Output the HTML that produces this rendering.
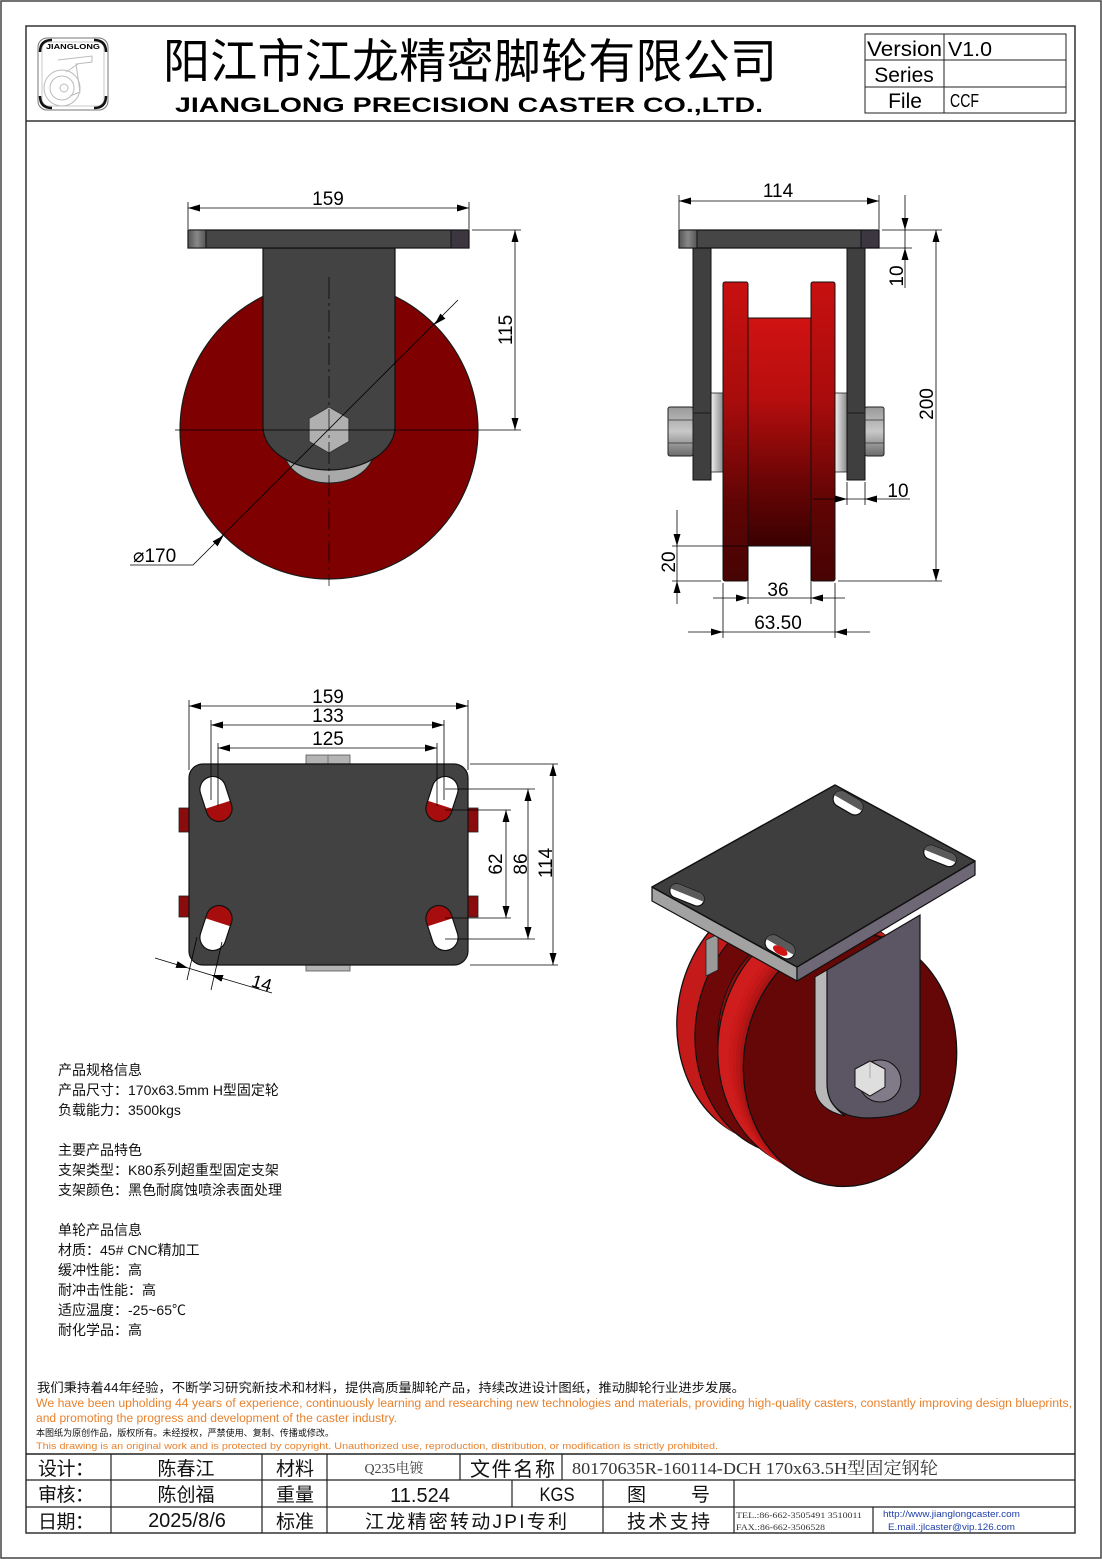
<!DOCTYPE html>
<html><head><meta charset="utf-8"><style>
html,body{margin:0;padding:0;background:#fff;}
svg{display:block;}
text{font-family:"Liberation Sans","Noto Sans CJK SC",sans-serif;}
.s{font-family:"Liberation Serif","Noto Serif CJK SC","Noto Sans CJK SC",serif;}
</style></head><body>
<svg width="1102" height="1559" viewBox="0 0 1102 1559" xmlns="http://www.w3.org/2000/svg">
<defs>
<marker id="ar" viewBox="0 0 12 7" refX="12" refY="3.5" markerWidth="12" markerHeight="7" markerUnits="userSpaceOnUse" orient="auto-start-reverse"><path d="M0,0 L12,3.5 L0,7 z" fill="#000"/></marker>
<linearGradient id="redV" x1="0" y1="0" x2="0" y2="1"><stop offset="0" stop-color="#d01212"/><stop offset="0.35" stop-color="#b80e0e"/><stop offset="0.7" stop-color="#6e0505"/><stop offset="1" stop-color="#3a0000"/></linearGradient>
<linearGradient id="redF" x1="0" y1="0" x2="0" y2="1"><stop offset="0" stop-color="#c81010"/><stop offset="0.4" stop-color="#a80c0c"/><stop offset="0.75" stop-color="#5e0404"/><stop offset="1" stop-color="#480303"/></linearGradient>
<linearGradient id="grayH" x1="0" y1="0" x2="1" y2="0"><stop offset="0" stop-color="#f0f0f0"/><stop offset="1" stop-color="#8a8a8a"/></linearGradient>
<linearGradient id="nutG" x1="0" y1="0" x2="0" y2="1"><stop offset="0" stop-color="#9a9a9a"/><stop offset="0.5" stop-color="#c8c8c8"/><stop offset="1" stop-color="#6a6a6a"/></linearGradient>
<linearGradient id="capL" x1="0" y1="0" x2="1" y2="0"><stop offset="0" stop-color="#555"/><stop offset="0.5" stop-color="#888"/><stop offset="1" stop-color="#555"/></linearGradient>
</defs>

<!-- frames -->
<rect x="1" y="1" width="1100" height="1557" fill="none" stroke="#444" stroke-width="1.5"/>
<rect x="26" y="26" width="1049" height="1507" fill="none" stroke="#333" stroke-width="1.5"/>
<line x1="26" y1="121" x2="1075" y2="121" stroke="#333" stroke-width="1.5"/>

<!-- logo -->
<g>
<rect x="38" y="38" width="70" height="72" rx="9" fill="none" stroke="#777" stroke-width="1"/>
<rect x="42" y="42" width="62" height="64" rx="7" fill="none" stroke="#bbb" stroke-width="0.8"/>
<path d="M40,52 Q40,40 52,40" fill="none" stroke="#111" stroke-width="2.5"/>
<path d="M94,40 Q106,40 106,52" fill="none" stroke="#111" stroke-width="2.5"/>
<path d="M40,96 Q40,108 52,108" fill="none" stroke="#111" stroke-width="2.5"/>
<path d="M94,108 Q106,108 106,96" fill="none" stroke="#111" stroke-width="2.5"/>
<text x="73" y="49" font-size="7" font-weight="bold" text-anchor="middle" textLength="54" lengthAdjust="spacingAndGlyphs">JIANGLONG</text>
<circle cx="62" cy="88" r="18" fill="none" stroke="#bbb" stroke-width="1"/>
<circle cx="62" cy="88" r="12" fill="none" stroke="#bbb" stroke-width="1"/>
<circle cx="64" cy="88" r="4" fill="none" stroke="#bbb" stroke-width="1"/>
<path d="M58,60 L92,56 L92,62 L76,64 L80,92 L70,96 M78,64 L66,72" fill="none" stroke="#bbb" stroke-width="1"/>
</g>

<!-- title -->
<text x="163" y="78" font-size="47" textLength="614" lengthAdjust="spacing" font-family="'Noto Sans CJK SC',sans-serif">阳江市江龙精密脚轮有限公司</text>
<text x="175" y="112" font-size="21" font-weight="bold" textLength="588" lengthAdjust="spacingAndGlyphs">JIANGLONG PRECISION CASTER CO.,LTD.</text>

<!-- version table -->
<g stroke="#222" stroke-width="1" fill="none">
<rect x="865" y="34" width="201" height="79"/>
<line x1="865" y1="60" x2="1066" y2="60"/>
<line x1="865" y1="87" x2="1066" y2="87"/>
<line x1="944" y1="34" x2="944" y2="113"/>
</g>
<text x="867" y="56" font-size="21" textLength="75" lengthAdjust="spacingAndGlyphs">Version</text>
<text x="948" y="56" font-size="20" textLength="44" lengthAdjust="spacingAndGlyphs">V1.0</text>
<text x="904" y="82" font-size="21" text-anchor="middle">Series</text>
<text x="905" y="108" font-size="21" text-anchor="middle">File</text>
<text x="950" y="107" font-size="18" textLength="29" lengthAdjust="spacingAndGlyphs">CCF</text>

<!-- ================= FRONT VIEW ================= -->
<g>
<circle cx="329" cy="430" r="149" fill="#7e0000" stroke="#1a1a1a" stroke-width="1.2"/>
<ellipse cx="329" cy="450" rx="45" ry="33" fill="#a9a9a9" stroke="#222" stroke-width="1"/>
<path d="M263,248 H395 V427 A66,43 0 0 1 263,427 Z" fill="#434343" stroke="#111" stroke-width="1.2"/>
<rect x="188" y="230" width="281" height="18" fill="#464646" stroke="#111" stroke-width="1.2"/>
<rect x="188" y="230" width="18" height="18" fill="url(#capL)" stroke="#111" stroke-width="1"/>
<rect x="451" y="230" width="18" height="18" fill="#3b3640" stroke="#111" stroke-width="1"/>
<polygon points="329,407 348.9,418.5 348.9,441.5 329,453 309.1,441.5 309.1,418.5" fill="#b0b0b0" stroke="#333" stroke-width="1"/>
<line x1="175" y1="430" x2="521" y2="430" stroke="#000" stroke-width="0.8"/>
<line x1="329" y1="277" x2="329" y2="586" stroke="#000" stroke-width="0.7" stroke-dasharray="22,4,3,4"/>
<!-- 159 -->
<g stroke="#000" stroke-width="0.8">
<line x1="188" y1="202" x2="188" y2="229"/>
<line x1="469" y1="202" x2="469" y2="229"/>
<line x1="188" y1="208" x2="469" y2="208" marker-start="url(#ar)" marker-end="url(#ar)"/>
<line x1="472" y1="230" x2="521" y2="230"/>
<line x1="515" y1="230" x2="515" y2="430" marker-start="url(#ar)" marker-end="url(#ar)"/>
<polyline points="458,300 193,565 130,565" fill="none"/>
</g>
<polygon points="434.4,324.6 445.4,318.6 440.4,313.6" fill="#000"/>
<polygon points="223.6,535.4 217.6,546.4 212.6,541.4" fill="#000"/>
<text x="328" y="205" font-size="19" text-anchor="middle">159</text>
<text transform="translate(512,330) rotate(-90)" font-size="19" text-anchor="middle">115</text>
<text x="133" y="562" font-size="19">⌀170</text>
</g>

<!-- ================= SIDE VIEW ================= -->
<g>
<rect x="748" y="318" width="63" height="228" fill="url(#redV)" stroke="#111" stroke-width="1"/>
<rect x="711" y="393" width="12" height="79" fill="url(#grayH)" stroke="#222" stroke-width="0.8"/>
<rect x="835" y="393" width="12" height="79" fill="url(#grayH)" stroke="#222" stroke-width="0.8"/>
<rect x="723" y="282" width="25" height="299" rx="2" fill="url(#redF)" stroke="#111" stroke-width="1"/>
<rect x="811" y="282" width="24" height="299" rx="2" fill="url(#redF)" stroke="#111" stroke-width="1"/>
<rect x="693" y="248" width="18" height="232" fill="#3f3f3f" stroke="#111" stroke-width="1"/>
<rect x="847" y="248" width="18" height="232" fill="#3f3f3f" stroke="#111" stroke-width="1"/>
<line x1="693" y1="413" x2="711" y2="413" stroke="#111" stroke-width="0.8"/>
<line x1="847" y1="413" x2="865" y2="413" stroke="#111" stroke-width="0.8"/>
<rect x="668" y="407" width="25" height="49" rx="2" fill="url(#nutG)" stroke="#222" stroke-width="1"/>
<line x1="668" y1="420" x2="693" y2="420" stroke="#333" stroke-width="0.8"/>
<line x1="668" y1="443" x2="693" y2="443" stroke="#333" stroke-width="0.8"/>
<rect x="865" y="407" width="19" height="49" rx="2" fill="url(#nutG)" stroke="#222" stroke-width="1"/>
<line x1="865" y1="420" x2="884" y2="420" stroke="#333" stroke-width="0.8"/>
<line x1="865" y1="443" x2="884" y2="443" stroke="#333" stroke-width="0.8"/>
<rect x="679" y="230" width="200" height="18" fill="#464646" stroke="#111" stroke-width="1.2"/>
<rect x="679" y="230" width="18" height="18" fill="url(#capL)" stroke="#111" stroke-width="1"/>
<rect x="861" y="230" width="18" height="18" fill="#3b3640" stroke="#111" stroke-width="1"/>
<g stroke="#000" stroke-width="0.8" fill="none">
<line x1="679" y1="195" x2="679" y2="229"/>
<line x1="879" y1="195" x2="879" y2="229"/>
<line x1="679" y1="201" x2="879" y2="201" marker-start="url(#ar)" marker-end="url(#ar)"/>
<line x1="882" y1="230" x2="942" y2="230"/>
<line x1="867" y1="248" x2="912" y2="248"/>
<line x1="905" y1="195" x2="905" y2="230" marker-end="url(#ar)"/>
<line x1="905" y1="230" x2="905" y2="248"/>
<line x1="905" y1="288" x2="905" y2="248" marker-end="url(#ar)"/>
<line x1="936" y1="230" x2="936" y2="581" marker-start="url(#ar)" marker-end="url(#ar)"/>
<line x1="838" y1="581" x2="942" y2="581"/>
<line x1="847" y1="482" x2="847" y2="505"/>
<line x1="865" y1="482" x2="865" y2="505"/>
<line x1="813" y1="499" x2="847" y2="499" marker-end="url(#ar)"/>
<line x1="847" y1="499" x2="865" y2="499"/>
<line x1="910" y1="499" x2="865" y2="499" marker-end="url(#ar)"/>
<line x1="672" y1="546" x2="748" y2="546"/>
<line x1="672" y1="581" x2="721" y2="581"/>
<line x1="677" y1="510" x2="677" y2="546" marker-end="url(#ar)"/>
<line x1="677" y1="546" x2="677" y2="581"/>
<line x1="677" y1="604" x2="677" y2="581" marker-end="url(#ar)"/>
<line x1="748" y1="548" x2="748" y2="604"/>
<line x1="811" y1="548" x2="811" y2="604"/>
<line x1="713" y1="598" x2="748" y2="598" marker-end="url(#ar)"/>
<line x1="748" y1="598" x2="811" y2="598"/>
<line x1="845" y1="598" x2="811" y2="598" marker-end="url(#ar)"/>
<line x1="723" y1="583" x2="723" y2="638"/>
<line x1="835" y1="583" x2="835" y2="638"/>
<line x1="688" y1="632" x2="723" y2="632" marker-end="url(#ar)"/>
<line x1="723" y1="632" x2="835" y2="632"/>
<line x1="870" y1="632" x2="835" y2="632" marker-end="url(#ar)"/>
</g>
<text x="778" y="197" font-size="19" text-anchor="middle">114</text>
<text transform="translate(903,276) rotate(-90)" font-size="19" text-anchor="middle">10</text>
<text transform="translate(933,404) rotate(-90)" font-size="19" text-anchor="middle">200</text>
<text x="898" y="497" font-size="19" text-anchor="middle">10</text>
<text transform="translate(675,562) rotate(-90)" font-size="19" text-anchor="middle">20</text>
<text x="778" y="596" font-size="19" text-anchor="middle">36</text>
<text x="778" y="629" font-size="19" text-anchor="middle">63.50</text>
</g>

<!-- ================= TOP VIEW ================= -->
<g>
<rect x="306" y="755" width="44" height="10" fill="#b4b4b4" stroke="#555" stroke-width="0.8"/>
<line x1="328" y1="755" x2="328" y2="764" stroke="#666" stroke-width="0.8"/>
<rect x="306" y="964" width="44" height="7" fill="#b4b4b4" stroke="#555" stroke-width="0.8"/>
<rect x="179" y="808" width="11" height="24" fill="#8a0c0c" stroke="#222" stroke-width="0.8"/>
<rect x="179" y="896" width="11" height="21" fill="#8a0c0c" stroke="#222" stroke-width="0.8"/>
<rect x="467" y="808" width="11" height="24" fill="#8a0c0c" stroke="#222" stroke-width="0.8"/>
<rect x="467" y="896" width="11" height="21" fill="#8a0c0c" stroke="#222" stroke-width="0.8"/>
<rect x="189" y="764" width="279" height="201" rx="14" fill="#424242" stroke="#111" stroke-width="1.2"/>
<g transform="translate(216,799) rotate(-18)"><rect x="-13" y="-23" width="26" height="46" rx="13" fill="#fff"/><path d="M-13,6 H13 V10 A13,13 0 0 1 -13,10 Z" fill="#a80d0d"/><rect x="-13" y="-23" width="26" height="46" rx="13" fill="none" stroke="#111" stroke-width="1.2"/></g>
<g transform="translate(442,799) rotate(18)"><rect x="-13" y="-23" width="26" height="46" rx="13" fill="#fff"/><path d="M-13,6 H13 V10 A13,13 0 0 1 -13,10 Z" fill="#a80d0d"/><rect x="-13" y="-23" width="26" height="46" rx="13" fill="none" stroke="#111" stroke-width="1.2"/></g>
<g transform="translate(216,928) rotate(18)"><rect x="-13" y="-23" width="26" height="46" rx="13" fill="#fff"/><path d="M-13,-6 H13 V-10 A13,13 0 0 0 -13,-10 Z" fill="#a80d0d"/><rect x="-13" y="-23" width="26" height="46" rx="13" fill="none" stroke="#111" stroke-width="1.2"/></g>
<g transform="translate(442,928) rotate(-18)"><rect x="-13" y="-23" width="26" height="46" rx="13" fill="#fff"/><path d="M-13,-6 H13 V-10 A13,13 0 0 0 -13,-10 Z" fill="#a80d0d"/><rect x="-13" y="-23" width="26" height="46" rx="13" fill="none" stroke="#111" stroke-width="1.2"/></g>
<g stroke="#000" stroke-width="0.8" fill="none">
<line x1="189" y1="700" x2="189" y2="770"/>
<line x1="468" y1="700" x2="468" y2="770"/>
<line x1="189" y1="706" x2="468" y2="706" marker-start="url(#ar)" marker-end="url(#ar)"/>
<line x1="211" y1="720" x2="211" y2="800"/>
<line x1="444" y1="720" x2="444" y2="800"/>
<line x1="211" y1="725" x2="444" y2="725" marker-start="url(#ar)" marker-end="url(#ar)"/>
<line x1="218" y1="743" x2="218" y2="806"/>
<line x1="437" y1="743" x2="437" y2="806"/>
<line x1="218" y1="748" x2="437" y2="748" marker-start="url(#ar)" marker-end="url(#ar)"/>
<line x1="470" y1="764" x2="558" y2="764"/>
<line x1="470" y1="965" x2="558" y2="965"/>
<line x1="553" y1="764" x2="553" y2="965" marker-start="url(#ar)" marker-end="url(#ar)"/>
<line x1="445" y1="789" x2="535" y2="789"/>
<line x1="445" y1="939" x2="535" y2="939"/>
<line x1="528" y1="789" x2="528" y2="939" marker-start="url(#ar)" marker-end="url(#ar)"/>
<line x1="445" y1="810" x2="511" y2="810"/>
<line x1="445" y1="918" x2="511" y2="918"/>
<line x1="506" y1="810" x2="506" y2="918" marker-start="url(#ar)" marker-end="url(#ar)"/>
<line x1="197" y1="937" x2="187" y2="980"/>
<line x1="222" y1="942" x2="211" y2="990"/>
<line x1="155" y1="958" x2="188" y2="968" marker-end="url(#ar)"/>
<line x1="188" y1="968" x2="211" y2="975"/>
<line x1="272" y1="993" x2="211" y2="975" marker-end="url(#ar)"/>
</g>
<text x="328" y="703" font-size="19" text-anchor="middle">159</text>
<text x="328" y="722" font-size="19" text-anchor="middle">133</text>
<text x="328" y="745" font-size="19" text-anchor="middle">125</text>
<text transform="translate(502,864) rotate(-90)" font-size="19" text-anchor="middle">62</text>
<text transform="translate(527,864) rotate(-90)" font-size="19" text-anchor="middle">86</text>
<text transform="translate(552,863) rotate(-90)" font-size="19" text-anchor="middle">114</text>
<text transform="translate(260,989) rotate(17)" font-size="18" text-anchor="middle">14</text>
</g>

<!-- ================= ISOMETRIC VIEW ================= -->
<g>
<!-- wheel: back rim -->
<g transform="rotate(10 850 1060)">
<ellipse cx="777" cy="1029" rx="106" ry="127" fill="#c41a1a" stroke="#111" stroke-width="1.3"/>
<ellipse cx="781" cy="1031" rx="106" ry="127" fill="#c41a1a"/>
<ellipse cx="785" cy="1032" rx="106" ry="127" fill="#c41a1a"/>
<ellipse cx="789" cy="1034" rx="106" ry="127" fill="#c41a1a"/>
<ellipse cx="793" cy="1036" rx="106" ry="127" fill="#c41a1a"/>
<ellipse cx="797" cy="1038" rx="106" ry="127" fill="#6e0707" stroke="#111" stroke-width="1.2"/>
<ellipse cx="800" cy="1039" rx="86" ry="104" fill="#8c0b0b" stroke="#111" stroke-width="1"/>
<ellipse cx="808" cy="1042" rx="86" ry="104" fill="#8c0b0b"/>
<ellipse cx="816" cy="1046" rx="86" ry="104" fill="#8c0b0b"/>
<ellipse cx="822" cy="1048" rx="106" ry="127" fill="#cf1c1c" stroke="#111" stroke-width="1.2"/>
<ellipse cx="826" cy="1050" rx="106" ry="127" fill="#cf1c1c"/>
<ellipse cx="830" cy="1052" rx="106" ry="127" fill="#cf1c1c"/>
<ellipse cx="834" cy="1053" rx="106" ry="127" fill="#cc1a1a"/>
<ellipse cx="838" cy="1055" rx="106" ry="127" fill="#c41818"/>
<ellipse cx="842" cy="1057" rx="106" ry="127" fill="#b81616"/>
<ellipse cx="846" cy="1058" rx="106" ry="127" fill="#a81313"/>
<ellipse cx="850" cy="1060" rx="106" ry="127" fill="#650707" stroke="#111" stroke-width="1.3"/>
</g>
<!-- far fork leg -->
<polygon points="706,940 718,934 718,970 706,976" fill="#9a9a9a" stroke="#222" stroke-width="0.8"/>
<!-- fork -->
<path d="M815,977 L827,970 L827,1083 Q828,1105 845,1116 Q818,1110 815,1090 Z" fill="#b8b8b8" stroke="#111" stroke-width="1"/>
<path d="M827,970 L920,915 L920,1095 Q915,1118 865,1118 Q827,1116 827,1083 Z" fill="#5c5664" stroke="#111" stroke-width="1.2"/>
<circle cx="880" cy="1081" r="21" fill="#817a88" stroke="#111" stroke-width="1"/>
<polygon points="870,1061 885,1069 885,1087 870,1096 855,1087 855,1069" fill="#dedede" stroke="#111" stroke-width="1"/>
<line x1="870" y1="1061" x2="870" y2="1078" stroke="#888" stroke-width="0.6"/>
<!-- plate -->
<polygon points="652,887 797,967 797,981 652,901" fill="#a2a2a2" stroke="#111" stroke-width="1.2" stroke-linejoin="round"/>
<polygon points="797,967 975,861 975,875 797,981" fill="#6e6876" stroke="#111" stroke-width="1.2" stroke-linejoin="round"/>
<polygon points="652,887 835,785 975,861 797,967" fill="#3e3e3e" stroke="#111" stroke-width="1.5" stroke-linejoin="round"/>
<g transform="translate(848,803) rotate(30)"><rect x="-16" y="-8" width="32" height="16" rx="8" fill="#fff" stroke="#111" stroke-width="1.2"/><path d="M-8,-8 H8 A8,8 0 0 1 16,0 H-16 A8,8 0 0 1 -8,-8 Z" fill="#5a5a5a"/></g>
<g transform="translate(940,856) rotate(22)"><rect x="-17" y="-7" width="34" height="14" rx="7" fill="#fff" stroke="#111" stroke-width="1.2"/><path d="M-10,-7 H10 A7,7 0 0 1 17,0 H-17 A7,7 0 0 1 -10,-7 Z" fill="#5a5a5a"/></g>
<g transform="translate(687,895) rotate(22)"><rect x="-18" y="-7" width="36" height="14" rx="7" fill="#fff" stroke="#111" stroke-width="1.2"/><path d="M-11,-7 H11 A7,7 0 0 1 18,0 H-18 A7,7 0 0 1 -11,-7 Z" fill="#5a5a5a"/></g>
<g transform="translate(780,947) rotate(30)"><rect x="-16" y="-8" width="32" height="16" rx="8" fill="#fff" stroke="#111" stroke-width="1.2"/><path d="M-8,-8 H8 A8,8 0 0 1 16,0 H-16 A8,8 0 0 1 -8,-8 Z" fill="#5a5a5a"/><ellipse cx="2" cy="3" rx="8" ry="4" fill="#d01515"/></g>
</g>

<!-- ================= NOTES ================= -->
<g font-size="14" fill="#111">
<text x="58" y="1075">产品规格信息</text>
<text x="58" y="1095">产品尺寸：170x63.5mm H型固定轮</text>
<text x="58" y="1115">负载能力：3500kgs</text>
<text x="58" y="1155">主要产品特色</text>
<text x="58" y="1175">支架类型：K80系列超重型固定支架</text>
<text x="58" y="1195">支架颜色：黑色耐腐蚀喷涂表面处理</text>
<text x="58" y="1235">单轮产品信息</text>
<text x="58" y="1255">材质：45# CNC精加工</text>
<text x="58" y="1275">缓冲性能：高</text>
<text x="58" y="1295">耐冲击性能：高</text>
<text x="58" y="1315">适应温度：-25~65℃</text>
<text x="58" y="1335">耐化学品：高</text>
</g>

<!-- ================= STATEMENT ================= -->
<text x="37" y="1392" font-size="12.5" fill="#111" textLength="708" lengthAdjust="spacingAndGlyphs">我们秉持着44年经验，不断学习研究新技术和材料，提供高质量脚轮产品，持续改进设计图纸，推动脚轮行业进步发展。</text>
<text x="36" y="1407" font-size="11.5" fill="#e8822e" textLength="1036" lengthAdjust="spacingAndGlyphs">We have been upholding 44 years of experience, continuously learning and researching new technologies and materials, providing high-quality casters, constantly improving design blueprints,</text>
<text x="36" y="1422" font-size="11.5" fill="#e8822e" textLength="361" lengthAdjust="spacingAndGlyphs">and promoting the progress and development of the caster industry.</text>
<text x="36" y="1436" font-size="9" fill="#111" textLength="298" lengthAdjust="spacingAndGlyphs">本图纸为原创作品，版权所有。未经授权，严禁使用、复制、传播或修改。</text>
<text x="36" y="1449" font-size="9.5" fill="#e8822e" textLength="682" lengthAdjust="spacingAndGlyphs">This drawing is an original work and is protected by copyright. Unauthorized use, reproduction, distribution, or modification is strictly prohibited.</text>

<!-- ================= TABLE ================= -->
<g stroke="#222" stroke-width="1.2" fill="none">
<line x1="26" y1="1454" x2="1075" y2="1454" stroke-width="1.6"/>
<line x1="26" y1="1480" x2="1075" y2="1480"/>
<line x1="26" y1="1507" x2="1075" y2="1507"/>
<line x1="111" y1="1454" x2="111" y2="1533"/>
<line x1="262" y1="1454" x2="262" y2="1533"/>
<line x1="327" y1="1454" x2="327" y2="1533"/>
<line x1="460" y1="1454" x2="460" y2="1480"/>
<line x1="562" y1="1454" x2="562" y2="1480"/>
<line x1="512" y1="1480" x2="512" y2="1507"/>
<line x1="603" y1="1480" x2="603" y2="1533"/>
<line x1="734" y1="1480" x2="734" y2="1533"/>
<line x1="873" y1="1507" x2="873" y2="1533"/>
</g>
<g font-size="19" fill="#111">
<text x="38" y="1475" textLength="56" lengthAdjust="spacing">设计：</text>
<text x="38" y="1501" textLength="56" lengthAdjust="spacing">审核：</text>
<text x="38" y="1528" textLength="56" lengthAdjust="spacing">日期：</text>
<text x="186" y="1475" text-anchor="middle">陈春江</text>
<text x="186" y="1501" text-anchor="middle">陈创福</text>
<text x="187" y="1527" text-anchor="middle" font-size="20">2025/8/6</text>
<text x="295" y="1475" text-anchor="middle">材料</text>
<text x="295" y="1501" text-anchor="middle">重量</text>
<text x="295" y="1528" text-anchor="middle">标准</text>
<text x="394" y="1473" text-anchor="middle" font-size="14" fill="#444" class="s">Q235电镀</text>
<text x="470" y="1476" font-size="20" textLength="85" lengthAdjust="spacing">文件名称</text>
<text x="572" y="1474" font-size="17" fill="#333" class="s" textLength="366" lengthAdjust="spacingAndGlyphs">80170635R-160114-DCH 170x63.5H型固定钢轮</text>
<text x="420" y="1502" text-anchor="middle" font-size="20">11.524</text>
<text x="557" y="1501" text-anchor="middle" font-size="19" textLength="35" lengthAdjust="spacingAndGlyphs">KGS</text>
<text x="627" y="1501" font-size="19" textLength="83" lengthAdjust="spacing">图号</text>
<text x="365" y="1528" font-size="19" textLength="202" lengthAdjust="spacing">江龙精密转动JPI专利</text>
<text x="627" y="1528" font-size="19" textLength="83" lengthAdjust="spacing">技术支持</text>
</g>
<text x="736" y="1518" font-size="8" fill="#333" class="s" textLength="126" lengthAdjust="spacingAndGlyphs">TEL.:86-662-3505491 3510011</text>
<text x="736" y="1530" font-size="8" fill="#333" class="s" textLength="89" lengthAdjust="spacingAndGlyphs">FAX.:86-662-3506528</text>
<text x="883" y="1517" font-size="9" fill="#2040a8" textLength="137" lengthAdjust="spacingAndGlyphs">http://www.jianglongcaster.com</text>
<text x="888" y="1530" font-size="9" fill="#2040a8" textLength="127" lengthAdjust="spacingAndGlyphs">E.mail.:jlcaster@vip.126.com</text>
</svg>
</body></html>
